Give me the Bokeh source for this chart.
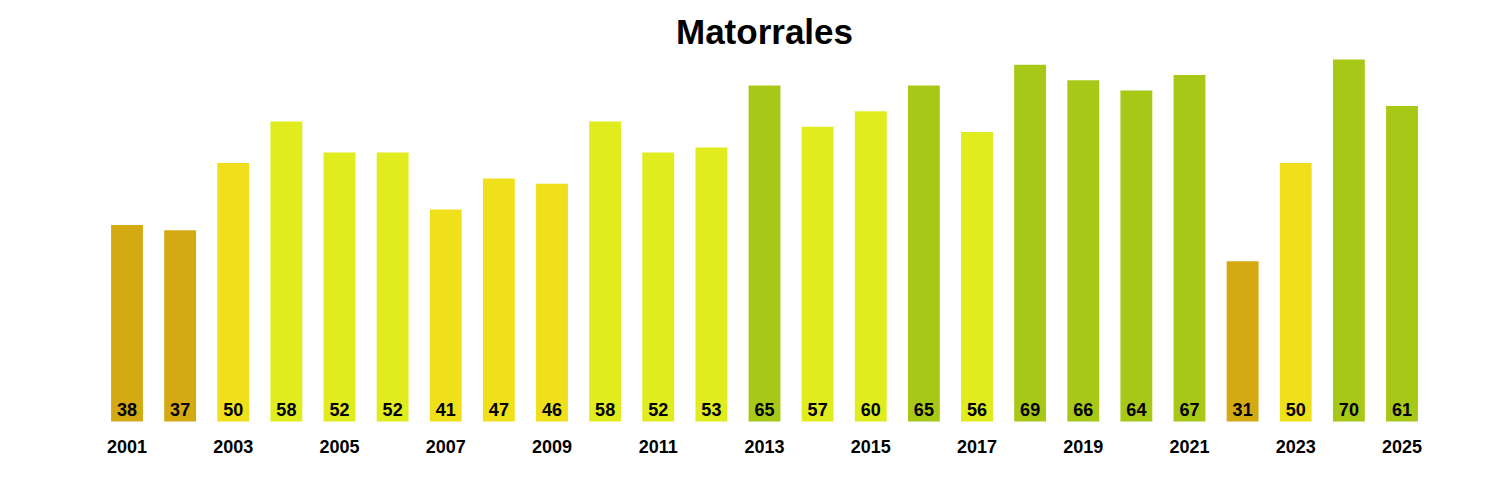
from bokeh.plotting import figure
from bokeh.models import ColumnDataSource, Range1d
from bokeh.core.properties import value
from bokeh.embed import file_html
from bokeh.resources import INLINE

years = list(range(2001, 2026))
values = [38, 37, 50, 58, 52, 52, 41, 47, 46, 58, 52, 53, 65, 57, 60, 65, 56, 69, 66, 64, 67, 31, 50, 70, 61]
tick_years = [y for y in years if y % 2 == 1]
title_text = "Matorrales"

def color_for(v):
    if v < 40:
        return "#D4A912"
    if v <= 50:
        return "#F0E01A"
    if v <= 60:
        return "#E0EC1D"
    return "#A8C817"

W, H = 1484, 484
px_per_year = 53.125
px_per_unit = 5.171
x0 = 2001 - 126.5 / px_per_year
y0 = -(H - 421) / px_per_unit

p = figure(width=W, height=H, output_backend="svg", toolbar_location=None,
           x_range=Range1d(x0, x0 + W / px_per_year),
           y_range=Range1d(y0, y0 + H / px_per_unit),
           min_border=0, min_border_left=0, min_border_right=0,
           min_border_top=0, min_border_bottom=0)
p.axis.visible = False
p.grid.visible = False
p.outline_line_color = None
p.background_fill_color = "white"
p.border_fill_color = "white"

src = ColumnDataSource(dict(
    x=years, top=values, color=[color_for(v) for v in values],
    label=[str(v) for v in values],
    ly=[12.3 / px_per_unit] * len(values),
))
p.vbar(x="x", top="top", bottom=0, width=0.6, fill_color="color", line_color=None, source=src)
p.text(x="x", y="ly", text="label", source=src, text_align="center", text_baseline="alphabetic",
       text_font=value("Liberation Sans"), text_font_style="bold", text_font_size="18px",
       text_color="black")

tsrc = ColumnDataSource(dict(x=tick_years, y=[-24.5 / px_per_unit] * len(tick_years),
                             t=[str(y) for y in tick_years]))
p.text(x="x", y="y", text="t", source=tsrc, text_align="center", text_baseline="alphabetic",
       text_font=value("Liberation Sans"), text_font_style="bold", text_font_size="18px",
       text_color="black")

p.text(x=[2013], y=[390 / px_per_unit], text=[title_text], text_align="center",
       text_baseline="alphabetic", text_font=value("Liberation Sans"), text_font_style="bold",
       text_font_size="35px", text_color="black")

open("out.html", "w").write(file_html(p, INLINE))
